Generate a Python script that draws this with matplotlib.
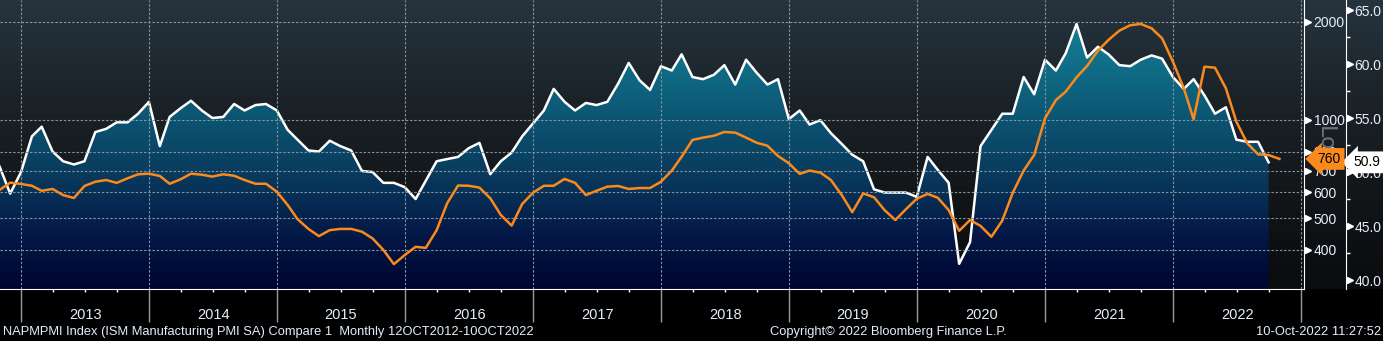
import numpy as np
import pandas as pd
import matplotlib
matplotlib.use('Agg')
import matplotlib.pyplot as plt
from matplotlib.colors import LinearSegmentedColormap
from matplotlib.ticker import FixedLocator, FuncFormatter, NullFormatter, NullLocator
import matplotlib.dates as mdates

plt.rcParams['font.family'] = ['Liberation Sans', 'DejaVu Sans']

# ISM Manufacturing PMI, monthly, Oct 2012 - Sep 2022 (right axis)
pmi_values = [
    50.5, 48.0, 50.0, 53.3, 54.2, 51.9, 51.0, 50.7, 51.0, 53.7, 54.0, 54.6,
    54.6, 55.4, 56.5, 52.4, 55.1, 55.9, 56.6, 55.7, 55.0, 55.1, 56.3, 55.7,
    56.2, 56.3, 55.7, 53.9, 53.0, 52.0, 51.9, 52.9, 52.4, 52.0, 50.1, 50.0,
    49.0, 49.0, 48.6, 47.5, 49.2, 51.0, 51.2, 51.4, 52.2, 52.7, 49.8, 51.0,
    51.8, 53.3, 54.5, 55.7, 57.7, 56.5, 55.7, 56.4, 56.2, 56.5, 58.2, 60.1,
    58.5, 57.6, 59.8, 59.4, 60.9, 58.8, 58.6, 59.0, 59.9, 58.1, 60.4, 59.2,
    58.1, 58.6, 54.9, 55.7, 54.4, 54.8, 53.6, 52.6, 51.6, 51.0, 48.4, 48.1,
    48.1, 48.1, 47.7, 51.4, 50.2, 49.0, 41.5, 43.5, 52.4, 53.9, 55.4, 55.4,
    58.8, 57.2, 60.4, 59.4, 61.0, 63.7, 60.6, 61.6, 60.9, 59.9, 59.8, 60.4,
    60.8, 60.5, 58.8, 57.7, 58.6, 57.1, 55.4, 56.0, 53.0, 52.8, 52.8, 50.9,
]

# Compare series, monthly, Oct 2012 - Oct 2022 (left axis, log)
compare_values = [
    611, 643, 637, 629, 607, 615, 589, 577, 628, 647, 655, 642,
    663, 682, 685, 674, 638, 658, 685, 680, 671, 682, 675, 655,
    638, 638, 603, 549, 497, 464, 441, 460, 464, 464, 455, 434,
    400, 362, 386, 409, 406, 460, 556, 630, 629, 621, 576, 512,
    475, 553, 599, 629, 629, 660, 642, 589, 607, 625, 628, 615,
    619, 619, 647, 700, 772, 869, 883, 895, 919, 915, 883, 852,
    834, 776, 737, 684, 700, 690, 655, 589, 522, 596, 580, 530,
    494, 533, 574, 594, 578, 530, 458, 494, 474, 439, 492, 599,
    700, 781, 1012, 1151, 1221, 1351, 1463, 1630, 1758, 1877, 1950, 1968,
    1909, 1779, 1508, 1251, 1005, 1456, 1446, 1251, 988, 849, 785, 781,
    760,
]

pmi_dates = pd.date_range('2012-10-31', periods=len(pmi_values), freq='ME')
compare_dates = pd.date_range('2012-10-31', periods=len(compare_values), freq='ME')

left_ticks = [400, 500, 600, 700, 800, 1000, 2000]
right_ticks = [40, 45, 50, 55, 60, 65]
right_minor = [42.5, 47.5, 52.5, 57.5, 62.5]
years = list(range(2013, 2023))

footer_left = 'NAPMPMI Index (ISM Manufacturing PMI SA) Compare 1  Monthly 12OCT2012-10OCT2022'
footer_mid = 'Copyright\u00a9 2022 Bloomberg Finance L.P.'
footer_right = '10-Oct-2022 11:27:52'

txt_color = '#e4eefa'
orange = '#fb8a1c'
W, H = 1383, 341
x0, x1 = pd.Timestamp('2012-11-01'), pd.Timestamp('2023-01-09')

fig = plt.figure(figsize=(W / 100, H / 100), dpi=100, facecolor='black')
rect = [0, 52 / H, 1304 / W, 289 / H]

# background gradient over the whole upper band
bg = fig.add_axes([0, 52 / H, 1, 289 / H])
bg.axis('off')
bg_cmap = LinearSegmentedColormap.from_list('bg', ['#26343f', '#1b2329', '#121619', '#0a0c0e'])
bg.imshow(np.linspace(0, 1, 256).reshape(-1, 1), cmap=bg_cmap, aspect='auto', extent=(0, 1, 0, 1))

# PMI axis (white line + gradient fill)
ax2 = fig.add_axes(rect, facecolor='none')
poly = ax2.fill_between(pmi_dates, pmi_values, 30, facecolor='none', edgecolor='none')
fill_cmap = LinearSegmentedColormap.from_list(
    'fill', ['#178599', '#11718a', '#0c5673', '#093b5e', '#041a48', '#000530'])
im = ax2.imshow(np.linspace(0, 1, 256).reshape(-1, 1), cmap=fill_cmap, aspect='auto',
                extent=(0, 1, 0, 1), transform=ax2.transAxes, zorder=1)
im.set_clip_path(poly.get_paths()[0], transform=ax2.transData)
ax2.plot(pmi_dates, pmi_values, color='white', lw=1.8, zorder=3)
ax2.set_xlim(x0, x1)
ax2.set_ylim(39.17, 65.93)
for s in ['top', 'left', 'bottom']:
    ax2.spines[s].set_visible(False)
ax2.spines['right'].set_position(('axes', 1346 / 1304))
ax2.spines['right'].set_color('white')
ax2.yaxis.tick_right()
ax2.yaxis.set_major_locator(FixedLocator(right_ticks))
ax2.yaxis.set_minor_locator(FixedLocator(right_minor))
ax2.yaxis.set_major_formatter(FuncFormatter(lambda v, p: f'{v:.1f}'))
ax2.tick_params(axis='y', which='major', length=0, pad=6, labelcolor=txt_color, labelsize=10)
ax2.tick_params(axis='y', which='minor', length=3, color='white', width=1)
ax2.tick_params(axis='x', which='both', bottom=False, labelbottom=False)
ax2.plot([1349.5 / 1304] * len(right_ticks), right_ticks, transform=ax2.get_yaxis_transform(),
         marker='>', ms=5, color='white', ls='none', clip_on=False)
ax2.text(1367 / 1304, pmi_values[-1], f'{pmi_values[-1]:.1f}', transform=ax2.get_yaxis_transform(),
         ha='center', va='center', color='black', fontsize=10, clip_on=False, zorder=10,
         bbox=dict(boxstyle='larrow,pad=0.28', fc='white', ec='none'))

# compare axis (orange line, log scale) on top
ax = fig.add_axes(rect, facecolor='none')
ax.set_yscale('log')
ax.plot(compare_dates, compare_values, color=orange, lw=1.8, zorder=3)
ax.set_xlim(x0, x1)
ax.set_ylim(303.8, 2330)
ax.spines['top'].set_visible(False)
ax.spines['left'].set_visible(False)
ax.spines['right'].set_color('white')
ax.spines['bottom'].set_color('white')
ax.yaxis.tick_right()
ax.yaxis.set_major_locator(FixedLocator(left_ticks))
ax.yaxis.set_minor_locator(NullLocator())
ax.yaxis.set_major_formatter(FuncFormatter(lambda v, p: f'{v:.0f}'))
ax.tick_params(axis='y', which='major', length=0, pad=7, labelcolor=txt_color, labelsize=10)
ax.plot([1.0027] * len(left_ticks), left_ticks, transform=ax.get_yaxis_transform(),
        marker='>', ms=5, color='white', ls='none', clip_on=False)

ax.xaxis.set_major_locator(mdates.YearLocator())
ax.xaxis.set_minor_locator(mdates.MonthLocator(bymonth=[4, 7, 10]))
ax.xaxis.set_major_formatter(NullFormatter())
ax.tick_params(axis='x', which='major', length=24, color='#9a9a9a', width=1)
ax.tick_params(axis='x', which='minor', length=2.5, color='white', width=1)

ax.set_axisbelow(True)
ax.grid(True, which='major', color='#86929a', ls=(0, (2.2, 1.6)), lw=0.8)

for y in years:
    ax.text(pd.Timestamp(f'{y}-07-02'), -26 / 289, str(y), transform=ax.get_xaxis_transform(),
            ha='center', va='center', color=txt_color, fontsize=10.5)

ax.text(1329 / 1304, compare_values[-1], f'{compare_values[-1]:.0f}', transform=ax.get_yaxis_transform(),
        ha='center', va='center', color='black', fontsize=10, clip_on=False, zorder=10,
        bbox=dict(boxstyle='larrow,pad=0.28', fc=orange, ec='none'))
ax.text(1325 / 1304, 1 - 146 / 289, 'Log', transform=ax.transAxes, rotation=270,
        ha='center', va='center', color='#6e7276', fontsize=16, family='DejaVu Sans',
        clip_on=False, zorder=5)

fy = 1 - 332 / H
fig.text(3 / W, fy, footer_left, ha='left', va='center', color=txt_color, fontsize=9.3)
fig.text(888 / W, fy, footer_mid, ha='center', va='center', color=txt_color, fontsize=9.3)
fig.text(1381 / W, fy, footer_right, ha='right', va='center', color=txt_color, fontsize=9.3)

fig.savefig('out.png', dpi=100, facecolor='black')
